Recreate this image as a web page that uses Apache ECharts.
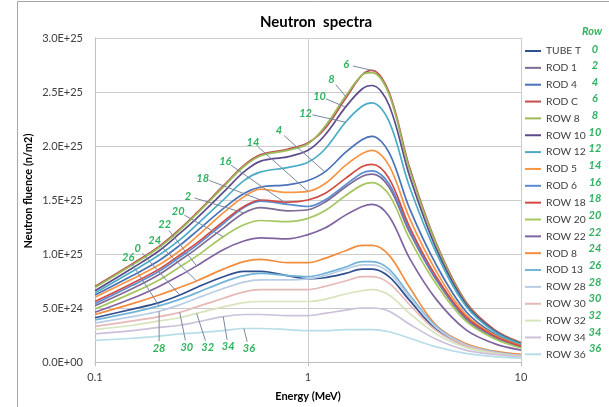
<!DOCTYPE html>
<html>
<head>
<meta charset="utf-8">
<script src="https://cdn.jsdelivr.net/npm/echarts@6/dist/echarts.min.js"></script>
<style>
  html, body { margin: 0; padding: 0; background: #ffffff; }
  #chart { width: 609px; height: 407px; }
</style>
</head>
<body>
<div id="chart"></div>
<script>
// Energy grid (MeV) shared by every spectrum
const energies = [0.1, 0.15, 0.2, 0.25, 0.3, 0.4, 0.5, 0.6, 0.8, 1.0, 1.2, 1.5, 1.8, 2.0, 2.4, 3, 4, 5.5, 7.5, 10];

// Neutron fluence per position, in units of 1E+24 n/m2
const tubeT  = [4.1, 4.9, 5.5, 6.2, 6.9, 7.9, 8.4, 8.4, 8.0, 7.7, 7.8, 8.2, 8.6, 8.6, 7.9, 5.7, 3.0, 1.5, 0.9, 0.6];
const rod1   = [5.2, 6.8, 8.1, 9.4, 10.5, 12.4, 13.8, 14.3, 14.0, 14.1, 14.8, 16.2, 17.2, 17.4, 16.2, 12.0, 7.6, 4.0, 2.25, 1.35];
const rod4   = [6.2, 8.0, 9.4, 10.8, 12.1, 14.2, 15.6, 16.2, 16.4, 16.8, 17.6, 19.4, 20.6, 20.9, 19.4, 14.2, 9.0, 4.7, 2.6, 1.6];
const rodC   = [7.0, 9.1, 10.7, 12.3, 13.8, 16.3, 18.2, 19.2, 19.7, 20.3, 21.6, 24.4, 26.6, 27.0, 25.0, 18.0, 11.0, 5.6, 3.0, 1.8];
const row8   = [6.9, 9.0, 10.6, 12.2, 13.7, 16.2, 18.1, 19.1, 19.6, 20.2, 21.8, 24.6, 26.6, 26.8, 24.8, 17.8, 10.9, 5.5, 2.9, 1.75];
const row10  = [6.6, 8.7, 10.3, 11.9, 13.3, 15.7, 17.6, 18.6, 19.0, 19.6, 21.0, 23.6, 25.3, 25.6, 23.8, 17.2, 10.5, 5.4, 2.9, 1.7];
const row12  = [6.4, 8.4, 9.9, 11.3, 12.7, 15.0, 16.8, 17.6, 18.0, 18.5, 19.7, 22.2, 23.7, 24.0, 22.3, 16.2, 10.1, 5.2, 2.8, 1.65];
const rod5   = [6.0, 7.7, 9.0, 10.3, 11.6, 13.8, 15.3, 16.0, 15.7, 15.8, 16.5, 18.2, 19.3, 19.6, 18.2, 13.3, 8.4, 4.4, 2.5, 1.5];
const rod6   = [5.4, 7.1, 8.4, 9.7, 10.8, 12.8, 14.3, 14.9, 14.6, 14.4, 15.0, 16.4, 17.5, 17.7, 16.5, 12.2, 7.7, 4.1, 2.3, 1.4];
const row18  = [5.6, 7.3, 8.6, 9.9, 11.0, 13.0, 14.4, 15.0, 14.8, 15.0, 15.6, 17.0, 18.1, 18.3, 17.0, 12.5, 7.9, 4.2, 2.4, 1.45];
const row20  = [4.9, 6.4, 7.6, 8.8, 9.8, 11.6, 12.7, 13.1, 13.0, 13.3, 14.0, 15.4, 16.4, 16.6, 15.5, 11.4, 7.2, 3.8, 2.15, 1.3];
const row22  = [4.6, 5.9, 7.0, 8.0, 8.9, 10.4, 11.2, 11.5, 11.4, 11.8, 12.4, 13.6, 14.4, 14.6, 13.5, 9.6, 5.8, 3.0, 1.7, 1.1];
const rod8   = [4.4, 5.4, 6.2, 6.9, 7.5, 8.6, 9.3, 9.5, 9.2, 9.2, 9.6, 10.3, 10.8, 10.8, 9.9, 6.9, 3.4, 1.7, 1.0, 0.7];
const rod13  = [3.9, 4.6, 5.2, 5.8, 6.4, 7.4, 8.0, 8.2, 8.0, 7.9, 8.2, 8.8, 9.3, 9.3, 8.6, 6.2, 3.3, 1.6, 0.95, 0.6];
const row28  = [3.6, 4.2, 4.7, 5.3, 5.9, 6.8, 7.4, 7.6, 7.6, 7.7, 8.0, 8.6, 9.0, 9.0, 8.3, 6.0, 3.2, 1.6, 0.9, 0.6];
const row30  = [3.3, 3.8, 4.2, 4.6, 5.1, 5.9, 6.5, 6.7, 6.7, 6.7, 7.0, 7.5, 7.9, 7.9, 7.3, 5.3, 2.9, 1.5, 0.85, 0.55];
const row32  = [3.0, 3.4, 3.8, 4.1, 4.5, 5.1, 5.5, 5.6, 5.6, 5.6, 5.8, 6.3, 6.6, 6.7, 6.2, 4.5, 2.6, 1.35, 0.8, 0.5];
const row34  = [2.6, 2.9, 3.2, 3.4, 3.7, 4.2, 4.4, 4.4, 4.3, 4.3, 4.5, 4.8, 5.0, 5.0, 4.7, 3.5, 2.1, 1.1, 0.7, 0.45];
const row36  = [2.0, 2.2, 2.4, 2.6, 2.7, 2.9, 3.1, 3.1, 3.0, 2.9, 2.9, 3.0, 3.0, 3.0, 2.8, 2.2, 1.4, 0.8, 0.5, 0.35];

const seriesNames  = ['TUBE T', 'ROD 1', 'ROD 4', 'ROD C', 'ROW 8', 'ROW 10', 'ROW 12', 'ROD 5', 'ROD 6',
                      'ROW 18', 'ROW 20', 'ROW 22', 'ROD 8', 'ROD 13', 'ROW 28', 'ROW 30', 'ROW 32', 'ROW 34', 'ROW 36'];
const seriesValues = [tubeT, rod1, rod4, rodC, row8, row10, row12, rod5, rod6,
                      row18, row20, row22, rod8, rod13, row28, row30, row32, row34, row36];
// Row number of each position, listed beside the legend
const rowNumbers   = ['0', '2', '4', '6', '8', '10', '12', '14', '16', '18', '20', '22', '24', '26', '28', '30', '32', '34', '36'];

// Tick values of the axes
const yTicks = { min: 0, max: 3e25, step: 5e24 };
const xTicks = { min: 0.1, max: 10 };

const UNIT = 1e24;

// Curve tags: row number, the spectrum it points at, the energy it points to, and where the tag sits
const curveTags = [
  { text: '6',  series: 'ROD C',  energy: 2.0,  dx: -26, dy: -6 },
  { text: '8',  series: 'ROW 8',  energy: 1.5,  dx: -14, dy: -17 },
  { text: '10', series: 'ROW 10', energy: 1.5,  dx: -26, dy: -11 },
  { text: '12', series: 'ROW 12', energy: 1.5,  dx: -40, dy: -9 },
  { text: '4',  series: 'ROD 4',  energy: 1.2,  dx: -46, dy: -41 },
  { text: '14', series: 'ROD 5',  energy: 1.0,  dx: -55, dy: -49 },
  { text: '16', series: 'ROD 6',  energy: 0.8,  dx: -62, dy: -43 },
  { text: '18', series: 'ROW 18', energy: 0.6,  dx: -58, dy: -22 },
  { text: '2',  series: 'ROD 1',  energy: 0.5,  dx: -56, dy: -17 },
  { text: '20', series: 'ROW 20', energy: 0.4,  dx: -45, dy: -25 },
  { text: '22', series: 'ROW 22', energy: 0.3,  dx: -32, dy: -41 },
  { text: '24', series: 'ROD 8',  energy: 0.3,  dx: -42, dy: -41 },
  { text: '0',  series: 'TUBE T', energy: 0.25, dx: -42, dy: -47 },
  { text: '26', series: 'ROD 13', energy: 0.2,  dx: -31, dy: -48 },
  { text: '28', series: 'ROW 28', energy: 0.2,  dx: 0,   dy: 37 },
  { text: '30', series: 'ROW 30', energy: 0.25, dx: 7,   dy: 35 },
  { text: '32', series: 'ROW 32', energy: 0.3,  dx: 11,  dy: 34 },
  { text: '34', series: 'ROW 34', energy: 0.4,  dx: 5,   dy: 30 },
  { text: '36', series: 'ROW 36', energy: 0.5,  dx: 5,   dy: 20 }
];

// Line colours, one per position
const palette = ['#2f4f8f', '#7d6a96', '#4a72b8', '#c0504d', '#9bbb59', '#5e4b8c', '#4bacc6', '#f79646', '#5b8bd0',
                 '#d14b42', '#a6c661', '#8064a2', '#f38d3e', '#72b4d8', '#b9cde5', '#e6b9b8', '#d7e4bd', '#ccc1da', '#b7dee8'];

const FONT = 'Lato, "Open Sans", sans-serif';
const GREEN = '#2fb35f';
const TEXT = '#404040';

function sciLabel(v) {
  if (v === 0) return '0.0E+00';
  let e = Math.floor(Math.log10(v) + 1e-9);
  let m = v / Math.pow(10, e);
  if (Math.round(m * 10) >= 100) { e += 1; m = v / Math.pow(10, e); }
  return m.toFixed(1) + 'E+' + (e < 10 ? '0' : '') + e;
}

const chart = echarts.init(document.getElementById('chart'), null, { renderer: 'canvas' });

const series = seriesNames.map((name, i) => ({
  name: name,
  type: 'line',
  smooth: 0.35,
  showSymbol: false,
  symbol: 'none',
  data: energies.map((e, k) => [e, seriesValues[i][k] * UNIT]),
  lineStyle: { width: 1.7, color: palette[i] },
  itemStyle: { color: palette[i] },
  emphasis: { disabled: true },
  z: 2
}));

// Row-number column beside the legend
const rowGraphics = [{
  type: 'text', id: 'rowHead', x: 592, y: 31,
  style: { text: 'Row', fill: GREEN, font: 'italic bold 11px ' + FONT, textAlign: 'center', textVerticalAlign: 'middle' }
}].concat(rowNumbers.map((t, i) => ({
  type: 'text', id: 'rowNo' + i, x: 595, y: 49 + i * 16.65,
  style: { text: t, fill: GREEN, font: 'italic bold 11px ' + FONT, textAlign: 'center', textVerticalAlign: 'middle' }
})));

chart.setOption({
  animation: false,
  backgroundColor: '#ffffff',
  title: {
    text: 'Neutron  spectra',
    left: 311, top: 10, textAlign: 'center',
    textStyle: { fontFamily: FONT, fontSize: 15, fontWeight: 'bold', color: '#000000' }
  },
  grid: { left: 95, right: 88, top: 38, bottom: 45, containLabel: false },
  legend: {
    orient: 'vertical',
    left: 520, top: 39,
    icon: 'rect', itemWidth: 16, itemHeight: 2,
    itemGap: 2.85,
    selectedMode: false,
    textStyle: { fontFamily: FONT, fontSize: 10.3, color: TEXT, lineHeight: 14 },
    data: seriesNames
  },
  xAxis: {
    type: 'log', logBase: 10, min: xTicks.min, max: xTicks.max,
    name: 'Energy (MeV)', nameLocation: 'middle', nameGap: 29,
    nameTextStyle: { fontFamily: FONT, fontSize: 11, fontWeight: 'bold', color: '#000000' },
    axisLine: { show: true, lineStyle: { color: '#bfbfbf', width: 1 } },
    axisTick: { show: true, length: 4, lineStyle: { color: '#bfbfbf' } },
    minorTick: { show: false },
    splitLine: { show: true, lineStyle: { color: '#cccccc', width: 1 } },
    axisLabel: { fontFamily: FONT, fontSize: 11, color: TEXT, margin: 10, formatter: v => String(v) }
  },
  yAxis: {
    type: 'value', min: yTicks.min, max: yTicks.max, interval: yTicks.step,
    axisLine: { show: true, lineStyle: { color: '#bfbfbf', width: 1 } },
    axisTick: { show: false },
    splitLine: { show: true, lineStyle: { color: '#cccccc', width: 1 } },
    axisLabel: { fontFamily: FONT, fontSize: 11, color: TEXT, margin: 12, formatter: sciLabel }
  },
  graphic: [
    { type: 'rect', id: 'frame', shape: { x: 17.5, y: 1.5, width: 640, height: 440 },
      style: { fill: 'none', stroke: '#a6a6a6', lineWidth: 1 }, silent: true, z: -1 },
    { type: 'text', id: 'yName', x: 28, y: 191, rotation: Math.PI / 2,
      style: { text: 'Neutron fluence (n/m2)', fill: '#000000', font: 'bold 11px ' + FONT,
               textAlign: 'center', textVerticalAlign: 'middle' } }
  ].concat(rowGraphics),
  series: series
});

// Tags with leader lines, anchored on points of their own spectrum
const tagGraphics = [];
curveTags.forEach((tag, i) => {
  const si = seriesNames.indexOf(tag.series);
  const k = energies.indexOf(tag.energy);
  const p = chart.convertToPixel({ xAxisIndex: 0, yAxisIndex: 0 }, [tag.energy, seriesValues[si][k] * UNIT]);
  const lx = p[0] + tag.dx, ly = p[1] + tag.dy;
  const vx = p[0] - lx, vy = p[1] - ly;
  const len = Math.sqrt(vx * vx + vy * vy) || 1;
  const gap = 7;
  tagGraphics.push({
    type: 'line', id: 'tagLine' + i, silent: true, z: 5,
    shape: { x1: lx + vx / len * gap, y1: ly + vy / len * gap, x2: p[0], y2: p[1] },
    style: { stroke: '#7b88a0', lineWidth: 1 }
  });
  tagGraphics.push({
    type: 'text', id: 'tagText' + i, x: lx, y: ly, silent: true, z: 6,
    style: { text: tag.text, fill: GREEN, font: 'italic bold 11px ' + FONT,
             textAlign: 'center', textVerticalAlign: 'middle' }
  });
});
chart.setOption({ graphic: tagGraphics });
</script>
</body>
</html>
